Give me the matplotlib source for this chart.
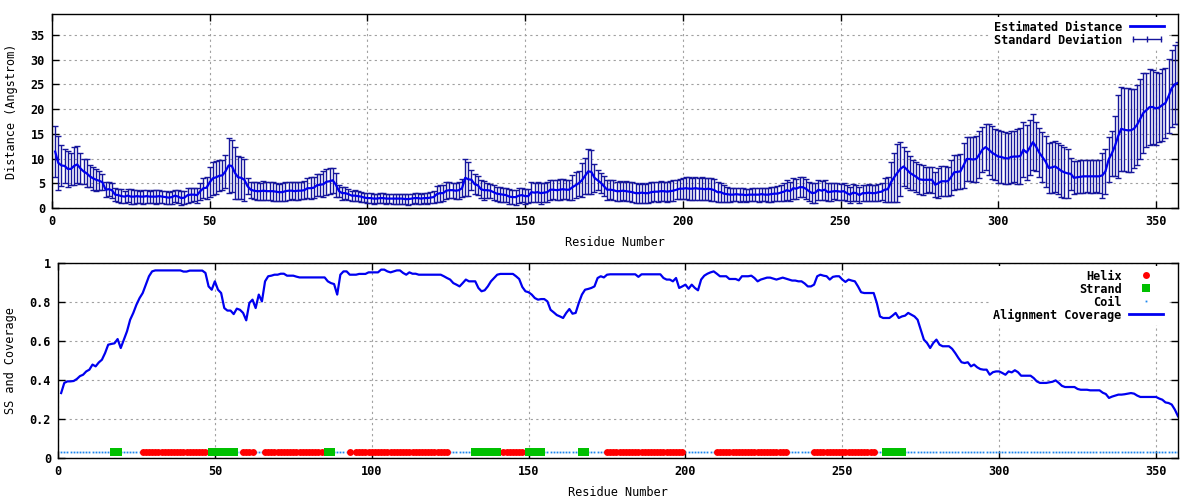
import matplotlib
matplotlib.use('Agg')
import matplotlib.pyplot as plt
import numpy as np
from matplotlib.lines import Line2D
from matplotlib.legend_handler import HandlerLine2D
from matplotlib.ticker import FuncFormatter

# estimated distance per residue (Angstrom), residues 1..357
dist = [
    11.4, 9.1, 8.6, 8.5, 7.9, 7.9, 8.5, 8.8, 8.0, 7.4,
    7.0, 6.4, 6.0, 5.7, 5.5, 5.2, 3.7, 3.8, 3.6, 2.7,
    2.6, 2.4, 2.3, 2.5, 2.3, 2.3, 2.4, 2.3, 2.3, 2.4,
    2.3, 2.3, 2.3, 2.4, 2.3, 2.2, 2.1, 2.2, 2.5, 2.3,
    2.0, 2.1, 2.6, 2.7, 2.7, 2.6, 3.4, 4.0, 4.1, 5.2,
    6.0, 6.2, 6.5, 6.6, 7.4, 8.6, 8.5, 7.1, 6.2, 6.1,
    5.7, 4.4, 3.7, 3.5, 3.4, 3.4, 3.5, 3.4, 3.4, 3.4,
    3.3, 3.2, 3.2, 3.4, 3.5, 3.5, 3.4, 3.5, 3.5, 3.6,
    4.0, 4.0, 4.1, 4.6, 4.7, 4.8, 5.3, 5.4, 5.6, 4.7,
    3.4, 3.0, 3.0, 2.8, 2.5, 2.5, 2.4, 2.3, 2.1, 2.0,
    2.0, 1.9, 1.9, 2.0, 2.0, 1.9, 1.9, 1.9, 1.9, 1.9,
    1.9, 1.8, 1.8, 1.9, 2.0, 2.0, 1.9, 2.0, 2.0, 2.1,
    2.2, 2.8, 3.0, 3.0, 3.5, 3.6, 3.6, 3.5, 3.6, 4.0,
    6.1, 5.8, 5.7, 4.8, 4.6, 3.8, 3.6, 3.6, 3.5, 3.2,
    2.9, 2.8, 2.7, 2.6, 2.3, 2.2, 2.2, 2.5, 2.6, 2.4,
    2.4, 3.2, 3.1, 3.2, 3.0, 3.1, 3.2, 3.7, 3.7, 3.6,
    3.7, 3.8, 3.7, 3.7, 4.2, 4.6, 5.0, 5.6, 6.5, 7.4,
    7.3, 6.1, 5.6, 5.1, 4.4, 3.7, 3.7, 3.6, 3.4, 3.4,
    3.5, 3.4, 3.3, 3.2, 3.0, 3.0, 3.1, 3.0, 3.0, 3.2,
    3.3, 3.3, 3.4, 3.4, 3.3, 3.4, 3.5, 3.7, 3.9, 3.9,
    4.0, 3.9, 3.9, 4.0, 3.9, 3.9, 3.8, 3.9, 3.8, 3.6,
    3.2, 3.2, 2.9, 2.8, 2.7, 2.7, 2.8, 2.7, 2.7, 2.6,
    2.7, 2.7, 2.7, 2.7, 2.8, 2.7, 2.7, 2.8, 2.9, 2.9,
    3.1, 3.3, 3.6, 3.4, 4.0, 3.9, 4.2, 4.2, 3.9, 3.4,
    3.0, 3.1, 3.7, 3.5, 3.7, 3.2, 3.3, 3.4, 3.4, 3.3,
    3.4, 3.0, 2.7, 3.1, 3.0, 2.6, 3.0, 3.0, 3.1, 3.0,
    3.0, 3.2, 3.3, 3.7, 3.8, 5.2, 6.2, 7.1, 7.9, 8.4,
    7.8, 7.1, 6.7, 6.3, 5.8, 5.7, 5.7, 5.7, 5.7, 4.7,
    5.0, 5.4, 5.4, 5.4, 6.2, 7.2, 7.3, 7.4, 8.6, 9.9,
    9.9, 9.8, 9.9, 10.8, 11.8, 12.3, 11.8, 11.2, 10.8, 10.4,
    10.3, 10.1, 10.0, 10.3, 10.4, 10.4, 10.5, 11.8, 11.2, 12.2,
    13.3, 12.4, 11.2, 10.3, 9.4, 8.1, 8.2, 8.4, 8.0, 7.5,
    7.2, 7.0, 6.9, 6.1, 6.2, 6.3, 6.4, 6.4, 6.4, 6.4,
    6.4, 6.4, 6.6, 7.4, 9.8, 11.0, 12.5, 14.5, 16.0, 15.8,
    15.7, 15.7, 16.0, 16.8, 18.0, 19.2, 19.8, 20.4, 20.4, 20.1,
    20.3, 20.8, 21.2, 22.6, 24.2, 25.0, 25.3,
]

# standard deviation per residue
sd = [
    5.2, 5.5, 4.2, 3.5, 3.7, 3.3, 3.8, 3.7, 3.2, 2.6,
    2.8, 2.2, 2.3, 2.2, 1.9, 1.6, 1.5, 1.4, 1.5, 1.3,
    1.3, 1.4, 1.2, 1.3, 1.5, 1.4, 1.3, 1.2, 1.4, 1.3,
    1.2, 1.3, 1.4, 1.3, 1.2, 1.3, 1.2, 1.3, 1.2, 1.3,
    1.4, 1.3, 1.5, 1.4, 1.3, 1.5, 1.7, 2.0, 2.2, 3.0,
    3.3, 3.3, 3.1, 3.0, 3.4, 5.5, 5.3, 5.2, 4.3, 4.2,
    4.3, 1.6, 1.6, 1.7, 1.8, 1.7, 1.9, 1.8, 1.8, 1.9,
    1.8, 1.7, 1.8, 1.9, 1.8, 1.7, 1.8, 1.8, 1.7, 1.8,
    2.0, 2.2, 2.1, 2.2, 2.2, 2.6, 2.6, 2.6, 2.5, 2.4,
    1.2, 1.3, 1.2, 1.1, 1.0, 1.1, 1.0, 1.0, 0.9, 1.0,
    1.0, 1.0, 0.9, 1.0, 1.0, 1.0, 0.9, 1.0, 1.0, 1.0,
    1.0, 1.0, 1.1, 1.0, 1.0, 1.1, 1.0, 1.0, 1.1, 1.1,
    1.2, 1.6, 1.7, 1.6, 1.7, 1.6, 1.5, 1.6, 1.7, 1.8,
    3.7, 3.4, 2.0, 2.0, 1.9, 1.8, 1.9, 1.5, 1.4, 1.5,
    1.4, 1.5, 1.4, 1.4, 1.5, 1.4, 1.5, 1.5, 1.4, 1.5,
    1.4, 2.0, 1.9, 2.0, 2.1, 1.9, 2.0, 2.0, 1.9, 2.0,
    2.1, 2.0, 1.9, 2.0, 2.5, 2.6, 2.5, 3.4, 3.6, 4.6,
    4.4, 2.8, 2.0, 2.0, 2.0, 2.0, 1.9, 2.0, 1.9, 2.0,
    1.8, 2.0, 1.9, 2.0, 2.0, 1.9, 2.0, 1.9, 2.0, 2.0,
    1.9, 2.0, 2.0, 1.9, 2.0, 2.0, 2.1, 1.9, 2.0, 2.1,
    2.2, 2.3, 2.2, 2.3, 2.2, 2.3, 2.2, 2.2, 2.3, 2.2,
    2.0, 1.9, 1.7, 1.5, 1.4, 1.3, 1.3, 1.4, 1.3, 1.3,
    1.2, 1.3, 1.3, 1.4, 1.3, 1.3, 1.4, 1.5, 1.4, 1.5,
    1.6, 1.8, 2.0, 1.9, 2.1, 2.0, 2.0, 2.0, 2.0, 1.9,
    2.0, 2.0, 2.0, 1.9, 2.0, 1.8, 1.8, 1.6, 1.7, 1.6,
    1.7, 1.6, 1.6, 1.7, 1.6, 1.6, 1.6, 1.6, 1.7, 1.6,
    1.6, 1.7, 1.7, 2.4, 2.5, 4.0, 5.0, 5.8, 5.5, 4.0,
    3.8, 3.5, 3.0, 3.0, 3.0, 3.0, 2.6, 2.5, 2.6, 2.5,
    3.0, 3.0, 3.0, 2.9, 3.5, 3.6, 3.5, 3.6, 4.5, 4.5,
    4.4, 4.5, 4.6, 4.7, 4.6, 4.6, 5.2, 5.3, 5.2, 5.3,
    5.2, 5.3, 5.2, 5.3, 5.2, 5.5, 5.6, 5.5, 5.6, 5.5,
    5.6, 5.0, 5.0, 5.0, 5.2, 5.1, 5.2, 5.2, 5.1, 5.2,
    5.1, 5.0, 3.3, 3.3, 3.2, 3.3, 3.3, 3.2, 3.3, 3.3,
    3.2, 3.3, 4.5, 4.6, 4.5, 4.6, 6.1, 8.4, 8.5, 8.4,
    8.5, 8.4, 8.0, 8.1, 8.0, 8.1, 7.5, 7.6, 7.5, 7.4,
    7.0, 7.2, 7.1, 7.5, 7.8, 8.0, 8.3,
]

# alignment coverage per residue
coverage = [
    0.333, 0.385, 0.393, 0.393, 0.395, 0.405, 0.420, 0.427, 0.444, 0.453,
    0.479, 0.470, 0.490, 0.504, 0.538, 0.581, 0.585, 0.588, 0.610, 0.564,
    0.607, 0.650, 0.709, 0.744, 0.786, 0.820, 0.846, 0.889, 0.932, 0.957,
    0.962, 0.962, 0.962, 0.962, 0.962, 0.962, 0.962, 0.962, 0.962, 0.956,
    0.956, 0.961, 0.961, 0.961, 0.961, 0.961, 0.949, 0.880, 0.863, 0.906,
    0.863, 0.846, 0.769, 0.756, 0.756, 0.738, 0.766, 0.760, 0.744, 0.706,
    0.795, 0.812, 0.769, 0.838, 0.803, 0.906, 0.932, 0.935, 0.940, 0.940,
    0.945, 0.945, 0.935, 0.935, 0.935, 0.930, 0.926, 0.926, 0.926, 0.926,
    0.926, 0.926, 0.926, 0.926, 0.926, 0.906, 0.897, 0.892, 0.838, 0.940,
    0.957, 0.957, 0.940, 0.940, 0.940, 0.944, 0.944, 0.944, 0.952, 0.952,
    0.952, 0.952, 0.966, 0.966, 0.957, 0.952, 0.957, 0.962, 0.962, 0.949,
    0.940, 0.952, 0.945, 0.945, 0.940, 0.940, 0.940, 0.940, 0.940, 0.940,
    0.940, 0.940, 0.932, 0.923, 0.915, 0.897, 0.889, 0.880, 0.897, 0.915,
    0.906, 0.906, 0.906, 0.872, 0.855, 0.860, 0.880, 0.906, 0.923, 0.940,
    0.944, 0.944, 0.944, 0.944, 0.944, 0.932, 0.918, 0.877, 0.855, 0.850,
    0.838, 0.820, 0.812, 0.815, 0.815, 0.803, 0.760, 0.747, 0.733, 0.726,
    0.718, 0.744, 0.764, 0.740, 0.744, 0.795, 0.838, 0.863, 0.867, 0.872,
    0.880, 0.923, 0.932, 0.926, 0.940, 0.942, 0.942, 0.942, 0.942, 0.942,
    0.942, 0.942, 0.942, 0.942, 0.929, 0.942, 0.942, 0.942, 0.942, 0.942,
    0.942, 0.942, 0.923, 0.915, 0.915, 0.906, 0.923, 0.872, 0.880, 0.889,
    0.868, 0.889, 0.872, 0.860, 0.915, 0.935, 0.945, 0.952, 0.957, 0.945,
    0.932, 0.932, 0.932, 0.918, 0.918, 0.918, 0.911, 0.932, 0.932, 0.932,
    0.935, 0.923, 0.906, 0.915, 0.920, 0.925, 0.925, 0.920, 0.915, 0.920,
    0.925, 0.920, 0.915, 0.910, 0.910, 0.906, 0.906, 0.895, 0.880, 0.880,
    0.889, 0.932, 0.940, 0.935, 0.932, 0.915, 0.929, 0.932, 0.932, 0.915,
    0.903, 0.915, 0.910, 0.906, 0.880, 0.850, 0.846, 0.846, 0.846, 0.846,
    0.795, 0.726, 0.718, 0.718, 0.718, 0.730, 0.744, 0.718, 0.726, 0.730,
    0.744, 0.735, 0.726, 0.709, 0.658, 0.607, 0.590, 0.564, 0.590, 0.607,
    0.581, 0.573, 0.573, 0.573, 0.560, 0.538, 0.513, 0.491, 0.487, 0.491,
    0.470, 0.479, 0.465, 0.456, 0.453, 0.453, 0.427, 0.440, 0.444, 0.444,
    0.436, 0.427, 0.444, 0.439, 0.450, 0.440, 0.422, 0.422, 0.422, 0.422,
    0.410, 0.393, 0.385, 0.385, 0.385, 0.388, 0.391, 0.398, 0.385, 0.370,
    0.364, 0.364, 0.364, 0.364, 0.354, 0.350, 0.350, 0.350, 0.347, 0.347,
    0.347, 0.347, 0.335, 0.328, 0.308, 0.315, 0.320, 0.325, 0.325, 0.327,
    0.330, 0.333, 0.330, 0.320, 0.313, 0.313, 0.313, 0.313, 0.313, 0.313,
    0.305, 0.299, 0.285, 0.282, 0.274, 0.248, 0.214,
]

# secondary structure segments (first, last residue)
helix_segs = [(27, 47), (59, 62), (66, 84), (93, 93), (95, 124), (142, 148),
              (175, 199), (210, 232), (241, 260)]
strand_segs = [(18, 19), (49, 56), (86, 87), (133, 140), (150, 154),
               (167, 168), (264, 269)]
ss_level = 0.03

n_res = 357
res = np.arange(1, n_res + 1)

plt.rcParams['font.family'] = ['DejaVu Sans Mono']
plt.rcParams['font.weight'] = 'bold'
plt.rcParams['font.size'] = 8.6

fig = plt.figure(figsize=(12, 5), dpi=100)
ax1 = fig.add_axes([52 / 1200, 1 - 208 / 500, 1126 / 1200, 194 / 500])
ax2 = fig.add_axes([58 / 1200, 1 - 458 / 500, 1120 / 1200, 195 / 500])

err_col = '#16169c'
line_col = '#0000f0'

def style(ax):
    ax.tick_params(direction='in', top=True, right=True, length=5, width=1,
                   labelsize=8.6, pad=5)
    for s in ax.spines.values():
        s.set_linewidth(1)
    ax.grid(True, color='#a0a0a0', linestyle=(0, (2, 3)), linewidth=0.8)
    ax.set_axisbelow(True)
    ax.set_xticks(np.arange(0, 351, 50))
    ax.xaxis.set_major_formatter(FuncFormatter(lambda v, p: '%g' % v))
    ax.yaxis.set_major_formatter(FuncFormatter(lambda v, p: '%g' % v))

leg_kw = dict(loc='upper right', markerfirst=False, frameon=True,
              facecolor='white', edgecolor='none', framealpha=1,
              fancybox=False, borderpad=0.3, borderaxespad=0,
              labelspacing=0.0, handlelength=2.9, handletextpad=0.6)

# top panel
style(ax1)
ax1.errorbar(res, dist, yerr=sd, fmt='none', ecolor=err_col, elinewidth=1,
             capsize=2.2, capthick=1)
ax1.plot(res, dist, color=line_col, lw=1.6)
ax1.set_xlim(0, 357)
ax1.set_ylim(0, 39.2)
ax1.set_yticks(np.arange(0, 36, 5))
ax1.set_xlabel('Residue Number', labelpad=6)
ax1.set_ylabel('Distance (Angstrom)', labelpad=9)

h_line = Line2D([], [], color=line_col, lw=2)
h_err = Line2D([], [], color=err_col, lw=1, marker='|', markersize=5,
               markeredgewidth=1)
ax1.legend([h_line, h_err], ['Estimated Distance', 'Standard Deviation'],
           handler_map={h_err: HandlerLine2D(numpoints=3)},
           bbox_to_anchor=(1 - 10 / 1126, 1 - 3 / 194), **leg_kw)

# bottom panel
style(ax2)
ax2.plot(res, np.full(n_res, ss_level), linestyle='none', marker='s',
         markersize=1.3, markeredgewidth=0, color='#1c86ee')
for a, b in helix_segs:
    r = np.arange(a, b + 1)
    ax2.plot(r, np.full(len(r), ss_level), linestyle='none', marker='o',
             markersize=5.0, markeredgewidth=0, color='#ff0000')
for a, b in strand_segs:
    r = np.arange(a, b + 1)
    ax2.plot(r, np.full(len(r), ss_level), linestyle='none', marker='s',
             markersize=5.2, markeredgewidth=0, color='#00c000')
ax2.plot(res, coverage, color=line_col, lw=1.6)
ax2.set_xlim(0, 357)
ax2.set_ylim(0, 1)
ax2.set_yticks(np.arange(0, 1.01, 0.2))
ax2.set_xlabel('Residue Number', labelpad=6)
ax2.set_ylabel('SS and Coverage', labelpad=9)

h_helix = Line2D([], [], linestyle='none', marker='o', markersize=5.0,
                 markeredgewidth=0, color='#ff0000')
h_strand = Line2D([], [], linestyle='none', marker='s', markersize=5.2,
                  markeredgewidth=0, color='#00c000')
h_coil = Line2D([], [], linestyle='none', marker='s', markersize=1.3,
                markeredgewidth=0, color='#1c86ee')
h_cov = Line2D([], [], color=line_col, lw=2)
ax2.legend([h_helix, h_strand, h_coil, h_cov],
           ['Helix', 'Strand', 'Coil', 'Alignment Coverage'],
           bbox_to_anchor=(1 - 11 / 1120, 1 - 3 / 195), numpoints=1, **leg_kw)

fig.savefig('out.png', dpi=100)
